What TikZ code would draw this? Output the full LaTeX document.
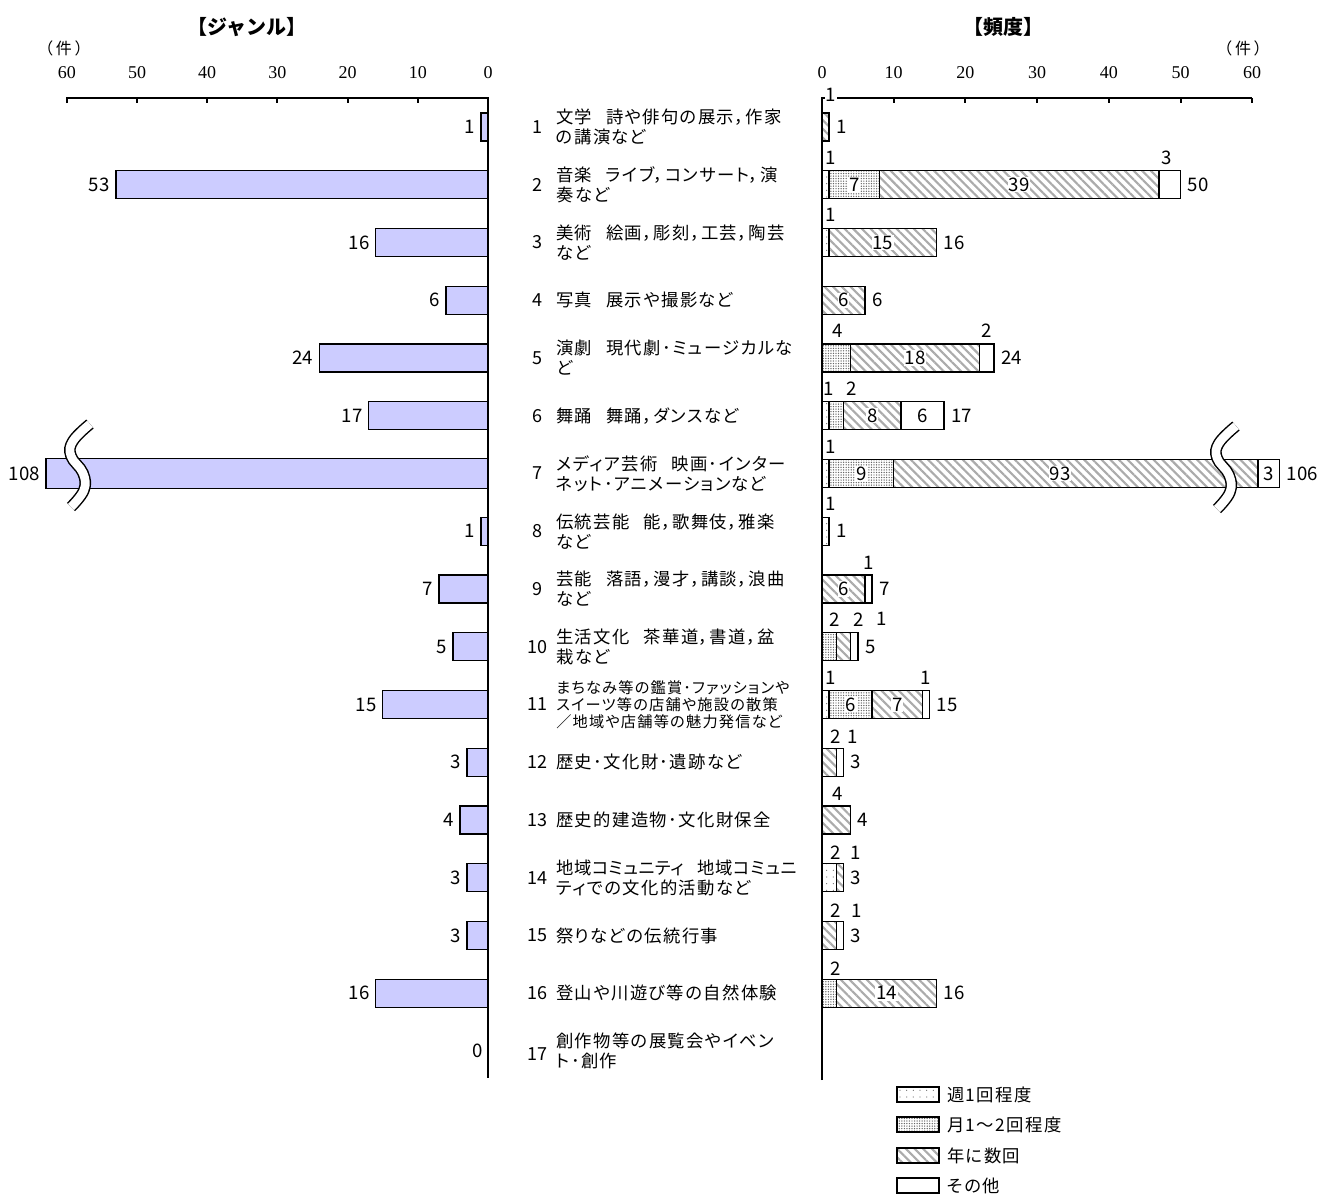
\documentclass[tikz,border=0pt]{standalone}
\usepackage{fontspec}
\setmainfont{Noto Sans CJK JP}
\newfontfamily\jp{Noto Sans CJK JP}[LetterSpace=8,RawFeature=+palt]
\newfontfamily\srf{Liberation Serif}
\usetikzlibrary{patterns.meta}
\definecolor{barblue}{HTML}{CCCCFF}
\newcommand\jsp{\hspace{0.8em}}
\tikzset{
  lbar/.style={draw, line width=1.1pt, fill=barblue},
  wk/.style={draw, line width=1.1pt, pattern={Dots[distance=5pt, radius=0.45pt]}, pattern color=black!55},
  mo/.style={draw, line width=1.1pt, pattern={Dots[distance=1.9pt, radius=0.55pt]}, pattern color=black!60},
  yr/.style={draw, line width=1.1pt, pattern={Lines[angle=-45, distance=4.6pt, line width=1.6pt]}, pattern color=black!33},
  ot/.style={draw, line width=1.1pt, fill=white},
  axis/.style={line width=1.5pt},
  num/.style={font=\fontsize{14}{16}\selectfont, inner sep=0pt},
  inl/.style={num, fill=white, inner sep=0.6pt},
  abl/.style={num, fill=white, inner sep=0.4pt},
  catn/.style={font=\fontsize{13.5}{15}\selectfont, inner sep=0pt},
  catt/.style={font=\jp\fontsize{13}{15}\selectfont, inner sep=0pt, anchor=west, align=left},
  tickl/.style={font=\srf\fontsize{13.5}{14}\selectfont, inner sep=0pt},
  brk/.style={line width=1.1pt, double=white, double distance=6.5pt},
  legbox/.style={line width=1.4pt},
  ttl/.style={font=\bfseries\fontsize{15}{17}\selectfont, inner sep=0pt},
  unit/.style={font=\fontsize{12}{14}\selectfont, inner sep=0pt},
}
\newcommand\lrow[3]{%
  \path[lbar] ({lx(#2)},{ry(#1)-14}) rectangle (488,{ry(#1)+14});
  \node[num, anchor=east] (lv#1) at ({lx(#2)-6},{ry(#1)}) {#3};}
\newcommand\rseg[4]{\path[#1] ({rx(#2)},{ry(#4)-14}) rectangle ({rx(#3)},{ry(#4)+14});}
\newcommand\rin[4]{\node[inl] (#1) at ({rx(#2)},{ry(#3)}) {#4};}
\newcommand\rtot[4]{\node[num, anchor=west] (#1) at ({rx(#2)+7},{ry(#3)}) {#4};}
\newcommand\cat[3]{%
  \node[catn] (cn#1) at (537,{ry(#1)+#3}) {#1};
  \node[catt] (ct#1) at (556,{ry(#1)}) {#2};}
\begin{document}
\begin{tikzpicture}[x=0.75pt,y=-0.75pt,
  declare function={lx(\v)=488-7.02*\v; rx(\v)=822+7.17*\v; ry(\i)=127+57.75*(\i-1);}]
\useasboundingbox (0,0) rectangle (1332,1197);

% titles
\node[ttl] (tg) at (247,27) {【ジャンル】};
\node[ttl] (tf) at (1003,27) {【頻度】};
\node[unit] (ul) at (64,48) {（\hspace{2pt}件\hspace{2pt}）};
\node[unit] (ur) at (1243,48) {（\hspace{2pt}件\hspace{2pt}）};

% tick labels
\foreach \v/\n in {60/a,50/b,40/c,30/d,20/e,10/f,0/g}
  \node[tickl] (lt\n) at ({lx(\v)},73) {\v};
\foreach \v/\n in {0/a,10/b,20/c,30/d,40/e,50/f,60/g}
  \node[tickl] (rtk\n) at ({rx(\v)},73) {\v};

% left bars
\lrow{1}{1}{1}
\lrow{2}{53}{53}
\lrow{3}{16}{16}
\lrow{4}{6}{6}
\lrow{5}{24}{24}
\lrow{6}{17}{17}
\path[lbar] (46,{ry(7)-15}) rectangle (488,{ry(7)+15});
\node[num, anchor=east] (lv7) at (40,{ry(7)}) {108};
\lrow{8}{1}{1}
\lrow{9}{7}{7}
\lrow{10}{5}{5}
\lrow{11}{15}{15}
\lrow{12}{3}{3}
\lrow{13}{4}{4}
\lrow{14}{3}{3}
\lrow{15}{3}{3}
\lrow{16}{16}{16}
\node[num, anchor=east] (lv17) at (483,{ry(17)}) {0};

% right bars
\rseg{yr}{0}{1}{1}
\rseg{wk}{0}{1}{2}\rseg{mo}{1}{8}{2}\rseg{yr}{8}{47}{2}\rseg{ot}{47}{50}{2}
\rseg{wk}{0}{1}{3}\rseg{yr}{1}{16}{3}
\rseg{yr}{0}{6}{4}
\rseg{mo}{0}{4}{5}\rseg{yr}{4}{22}{5}\rseg{ot}{22}{24}{5}
\rseg{wk}{0}{1}{6}\rseg{mo}{1}{3}{6}\rseg{yr}{3}{11}{6}\rseg{ot}{11}{17}{6}
\rseg{wk}{0}{1}{7}\rseg{mo}{1}{10}{7}\rseg{yr}{10}{60.8}{7}\rseg{ot}{60.8}{63.8}{7}
\rseg{wk}{0}{1}{8}
\rseg{yr}{0}{6}{9}\rseg{ot}{6}{7}{9}
\rseg{mo}{0}{2}{10}\rseg{yr}{2}{4}{10}\rseg{ot}{4}{5}{10}
\rseg{wk}{0}{1}{11}\rseg{mo}{1}{7}{11}\rseg{yr}{7}{14}{11}\rseg{ot}{14}{15}{11}
\rseg{yr}{0}{2}{12}\rseg{ot}{2}{3}{12}
\rseg{yr}{0}{4}{13}
\rseg{wk}{0}{2}{14}\rseg{yr}{2}{3}{14}
\rseg{yr}{0}{2}{15}\rseg{ot}{2}{3}{15}
\rseg{mo}{0}{2}{16}\rseg{yr}{2}{16}{16}

% break marks
\draw[brk] plot[smooth, tension=0.7] coordinates {(90,424) (73,441) (71,456) (83,473) (84,490) (71,507)};
\draw[brk] plot[smooth, tension=0.7] coordinates {(1236,426) (1219,443) (1217,458) (1229,475) (1230,492) (1217,509)};

% axes
\draw[axis] (67,103) -- (67,98) -- (488,98) -- (488,1078);
\foreach \v in {50,40,30,20,10} \draw[axis] ({lx(\v)},98) -- ({lx(\v)},103);
\draw[axis] (822,1080) -- (822,98) -- (1252,98);
\foreach \v in {10,20,30,40,50,60} \draw[axis] ({rx(\v)},98) -- ({rx(\v)},103);

% right labels: inside
\rin{i2a}{4.5}{2}{7}\rin{i2b}{27.5}{2}{39}
\rin{i3}{8.5}{3}{15}
\rin{i4}{3}{4}{6}
\rin{i5}{13}{5}{18}
\rin{i6a}{7}{6}{8}\rin{i6b}{14}{6}{6}
\rin{i7a}{5.5}{7}{9}\rin{i7b}{33.2}{7}{93}\rin{i7c}{62.3}{7}{3}
\rin{i9}{3}{9}{6}
\rin{i11a}{4}{11}{6}\rin{i11b}{10.5}{11}{7}
\rin{i16}{9}{16}{14}
% totals
\rtot{t1}{1}{1}{1}\rtot{t2}{50}{2}{50}\rtot{t3}{16}{3}{16}\rtot{t4}{6}{4}{6}
\rtot{t5}{24}{5}{24}\rtot{t6}{17}{6}{17}\rtot{t7}{63.8}{7}{106}\rtot{t8}{1}{8}{1}
\rtot{t9}{7}{9}{7}\rtot{t10}{5}{10}{5}\rtot{t11}{15}{11}{15}\rtot{t12}{3}{12}{3}
\rtot{t13}{4}{13}{4}\rtot{t14}{3}{14}{3}\rtot{t15}{3}{15}{3}\rtot{t16}{16}{16}{16}
% above labels
\node[abl] (a1) at (831,95) {1};
\node[abl] (a2a) at (831,158) {1};\node[abl] (a2b) at (1167,158) {3};
\node[abl] (a3) at (831,215) {1};
\node[abl] (a5a) at (838,331) {4};\node[abl] (a5b) at (987,331) {2};
\node[abl] (a6a) at (829,389) {1};\node[abl] (a6b) at (852,389) {2};
\node[abl] (a7) at (831,447) {1};
\node[abl] (a8) at (831,504) {1};
\node[abl] (a9) at (869,563) {1};
\node[abl] (a10a) at (835,620) {2};\node[abl] (a10b) at (859,620) {2};\node[abl] (a10c) at (882,619) {1};
\node[abl] (a11a) at (831,678) {1};\node[abl] (a11b) at (926,678) {1};
\node[abl] (a12a) at (836,737) {2};\node[abl] (a12b) at (853,737) {1};
\node[abl] (a13) at (838,794) {4};
\node[abl] (a14a) at (836,853) {2};\node[abl] (a14b) at (856,853) {1};
\node[abl] (a15a) at (836,911) {2};\node[abl] (a15b) at (857,911) {1};
\node[abl] (a16) at (836,969) {2};

% categories
\cat{1}{文学\jsp 詩や俳句の展示，作家\\の講演など}{0}
\cat{2}{音楽\jsp ライブ，コンサート，演\\奏など}{0}
\cat{3}{美術\jsp 絵画，彫刻，工芸，陶芸\\など}{0}
\cat{4}{写真\jsp 展示や撮影など}{0}
\cat{5}{演劇\jsp 現代劇･ミュージカルな\\ど}{0}
\cat{6}{舞踊\jsp 舞踊，ダンスなど}{0}
\cat{7}{メディア芸術\jsp 映画･インター\\ネット･アニメーションなど}{0}
\cat{8}{伝統芸能\jsp 能，歌舞伎，雅楽\\など}{0}
\cat{9}{芸能\jsp 落語，漫才，講談，浪曲\\など}{0}
\cat{10}{生活文化\jsp 茶華道，書道，盆\\栽など}{0}
\node[catn] (cn11) at (537,{ry(11)}) {11};
\node[catt, font=\jp\fontsize{11.4}{12.75}\selectfont] (ct11) at (556,{ry(11)}) {まちなみ等の鑑賞･ファッションや\\スイーツ等の店舗や施設の散策\\／地域や店舗等の魅力発信など};
\cat{12}{歴史･文化財･遺跡など}{0}
\cat{13}{歴史的建造物･文化財保全}{0}
\cat{14}{\addfontfeature{LetterSpace=3}地域コミュニティ\jsp 地域コミュニ\\ティでの文化的活動など}{0}
\cat{15}{祭りなどの伝統行事}{0}
\cat{16}{登山や川遊び等の自然体験}{0}
\cat{17}{創作物等の展覧会やイベン\\ト･創作}{3}

% legend
\path[wk, legbox] (897,1087) rectangle (939,1102);
\node[catt] (lg1) at (947,1095) {週1回程度};
\path[mo, legbox] (897,1117) rectangle (939,1132);
\node[catt] (lg2) at (947,1125) {月1～2回程度};
\path[yr, legbox] (897,1148) rectangle (939,1163);
\node[catt] (lg3) at (947,1156) {年に数回};
\path[ot, legbox] (897,1178) rectangle (939,1193);
\node[catt] (lg4) at (947,1186) {その他};
\end{tikzpicture}
\end{document}
